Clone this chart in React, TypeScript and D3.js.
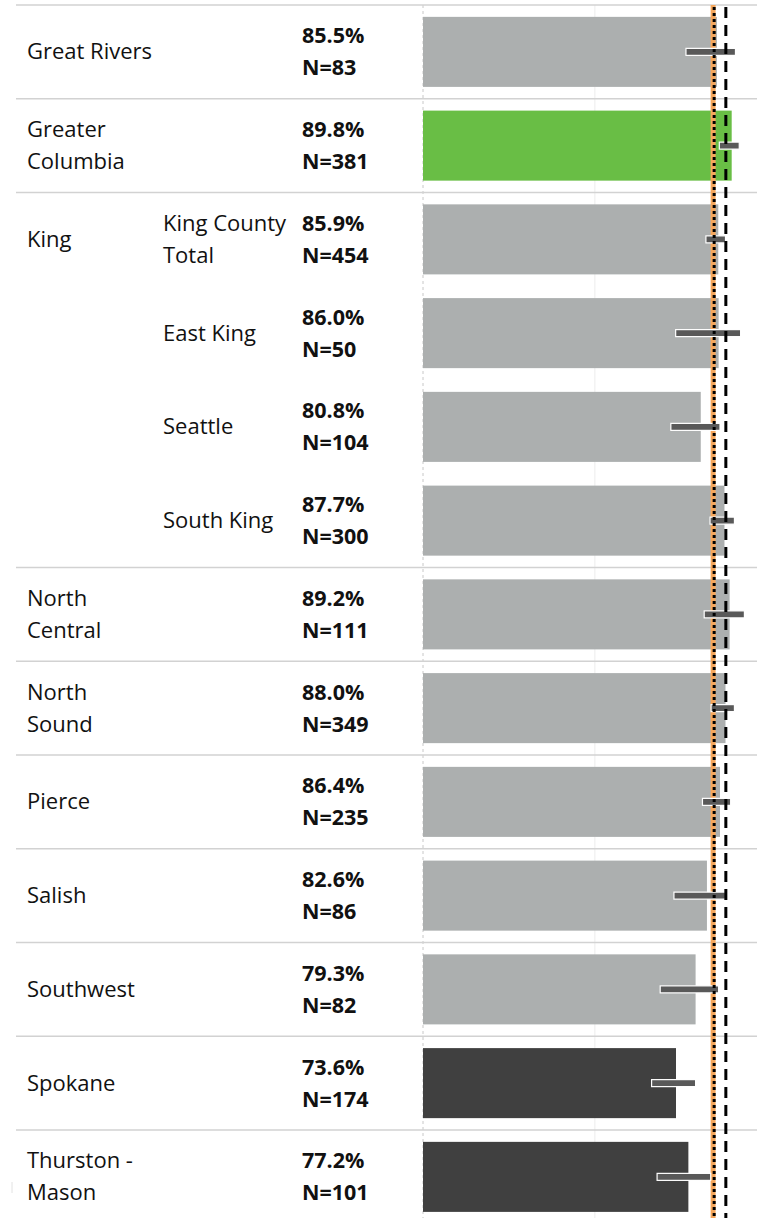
import * as d3 from "d3";
import { useEffect, useRef } from "react";

// region rows, top to bottom
const groupLabels = [
  "Great Rivers",
  "Greater\nColumbia",
  "King",
  "",
  "",
  "",
  "North\nCentral",
  "North\nSound",
  "Pierce",
  "Salish",
  "Southwest",
  "Spokane",
  "Thurston -\nMason",
];
const subLabels = ["", "", "King County\nTotal", "East King", "Seattle", "South King", "", "", "", "", "", "", ""];
const rates = [85.5, 89.8, 85.9, 86.0, 80.8, 87.7, 89.2, 88.0, 86.4, 82.6, 79.3, 73.6, 77.2];
const counts = [83, 381, 454, 50, 104, 300, 111, 349, 235, 86, 82, 174, 101];
const ciLow = [76.5, 86.2, 82.3, 73.5, 72.1, 83.5, 81.8, 83.8, 81.3, 73.0, 69.0, 66.5, 68.1];
const ciHigh = [90.9, 92.0, 88.0, 92.4, 86.4, 90.6, 93.5, 90.6, 89.5, 88.0, 86.0, 79.3, 83.7];
// compared with the state: same / better / worse
const status = ["same", "better", "same", "same", "same", "same", "same", "same", "same", "same", "same", "worse", "worse"];

const stateRate = 84.4; // orange line
const dottedRef = 84.7;
const dashedRef = 88.1;
const gridTicks = [0, 50];

const colors: Record<string, string> = {
  same: "#acafaf",
  better: "#69be45",
  worse: "#404040",
};

const W = 757;
const H = 1218;

const App = () => {
  const ref = useRef<SVGSVGElement | null>(null);

  useEffect(() => {
    if (!ref.current) return;
    const svg = d3.select(ref.current);
    svg.selectAll("*").remove();

    const top = 5;
    const step = 93.75;
    const rowIdx = rates.map((_, i) => i);
    const y = d3
      .scaleBand<number>()
      .domain(rowIdx)
      .range([top, top + step * rowIdx.length]);
    const barH = y.bandwidth() * 0.747;
    const x = d3.scaleLinear().domain([0, 100]).range([423, 766.75]);

    const font = "'Open Sans', sans-serif";
    const lineGap = 32;

    // gridlines
    svg
      .append("g")
      .selectAll("line")
      .data(gridTicks)
      .join("line")
      .attr("x1", (d) => x(d))
      .attr("x2", (d) => x(d))
      .attr("y1", top)
      .attr("y2", H)
      .attr("stroke", (d) => (d === 0 ? "#c8c8c8" : "#ececec"))
      .attr("stroke-width", 1)
      .attr("stroke-dasharray", (d) => (d === 0 ? "3,3" : null));

    // row separators (only where a new region starts)
    const sepRows = rowIdx.filter((i) => groupLabels[i] !== "");
    svg
      .append("g")
      .selectAll("line")
      .data(sepRows)
      .join("line")
      .attr("x1", 16)
      .attr("x2", W)
      .attr("y1", (d) => y(d)!)
      .attr("y2", (d) => y(d)!)
      .attr("stroke", "#d2d2d2")
      .attr("stroke-width", 1.5);

    // faint mark bottom-left
    svg
      .append("line")
      .attr("x1", 12)
      .attr("x2", 12)
      .attr("y1", 1182)
      .attr("y2", 1193)
      .attr("stroke", "#e2e2e2")
      .attr("stroke-width", 1);

    // bars
    svg
      .append("g")
      .selectAll("rect")
      .data(rowIdx)
      .join("rect")
      .attr("x", x(0))
      .attr("y", (i) => y(i)! + (y.bandwidth() - barH) / 2)
      .attr("width", (i) => x(rates[i]) - x(0))
      .attr("height", barH)
      .attr("fill", (i) => colors[status[i]]);

    // state rate line
    svg
      .append("line")
      .attr("x1", x(stateRate))
      .attr("x2", x(stateRate))
      .attr("y1", top)
      .attr("y2", H)
      .attr("stroke", "#f6a75c")
      .attr("stroke-width", 5);

    // confidence intervals
    svg
      .append("g")
      .selectAll("rect")
      .data(rowIdx)
      .join("rect")
      .attr("x", (i) => x(ciLow[i]))
      .attr("y", (i) => y(i)! + y.bandwidth() / 2 - 3.5)
      .attr("width", (i) => x(ciHigh[i]) - x(ciLow[i]))
      .attr("height", 7)
      .attr("fill", "#595959")
      .attr("stroke", "#ffffff")
      .attr("stroke-width", 1.2);

    // reference lines
    svg
      .append("line")
      .attr("x1", x(dottedRef))
      .attr("x2", x(dottedRef))
      .attr("y1", top + 2)
      .attr("y2", H)
      .attr("stroke", "#000")
      .attr("stroke-width", 3)
      .attr("stroke-dasharray", "3,3");

    svg
      .append("line")
      .attr("x1", x(dashedRef))
      .attr("x2", x(dashedRef))
      .attr("y1", top + 2)
      .attr("y2", H)
      .attr("stroke", "#000")
      .attr("stroke-width", 3)
      .attr("stroke-dasharray", "11,7");

    // text helper: multi-line, vertically centered on the row
    const addText = (
      g: d3.Selection<SVGGElement, unknown, null, undefined>,
      tx: number,
      cy: number,
      text: string,
      bold: boolean
    ) => {
      const lines = text.split("\n");
      const fs = bold ? 21.5 : 22;
      const t = g
        .append("text")
        .attr("x", tx)
        .attr("font-family", font)
        .attr("font-size", fs)
        .attr("font-weight", bold ? 700 : 400)
        .attr("fill", "#111");
      lines.forEach((ln, k) => {
        const ly = cy + (k - (lines.length - 1) / 2) * lineGap + 7.6;
        t.append("tspan").attr("x", tx).attr("y", ly).text(ln);
      });
    };

    const labels = svg.append("g");
    rowIdx.forEach((i) => {
      const cy = y(i)! + y.bandwidth() / 2;
      if (groupLabels[i]) addText(labels, 27, cy, groupLabels[i], false);
      if (subLabels[i]) addText(labels, 163, cy, subLabels[i], false);
      addText(labels, 302, cy, `${rates[i].toFixed(1)}%\nN=${counts[i]}`, true);
    });
  }, []);

  return (
    <svg
      ref={ref}
      width={W}
      height={H}
      style={{ position: "absolute", left: 0, top: 0, background: "#fff", display: "block" }}
    />
  );
};

export default App;
